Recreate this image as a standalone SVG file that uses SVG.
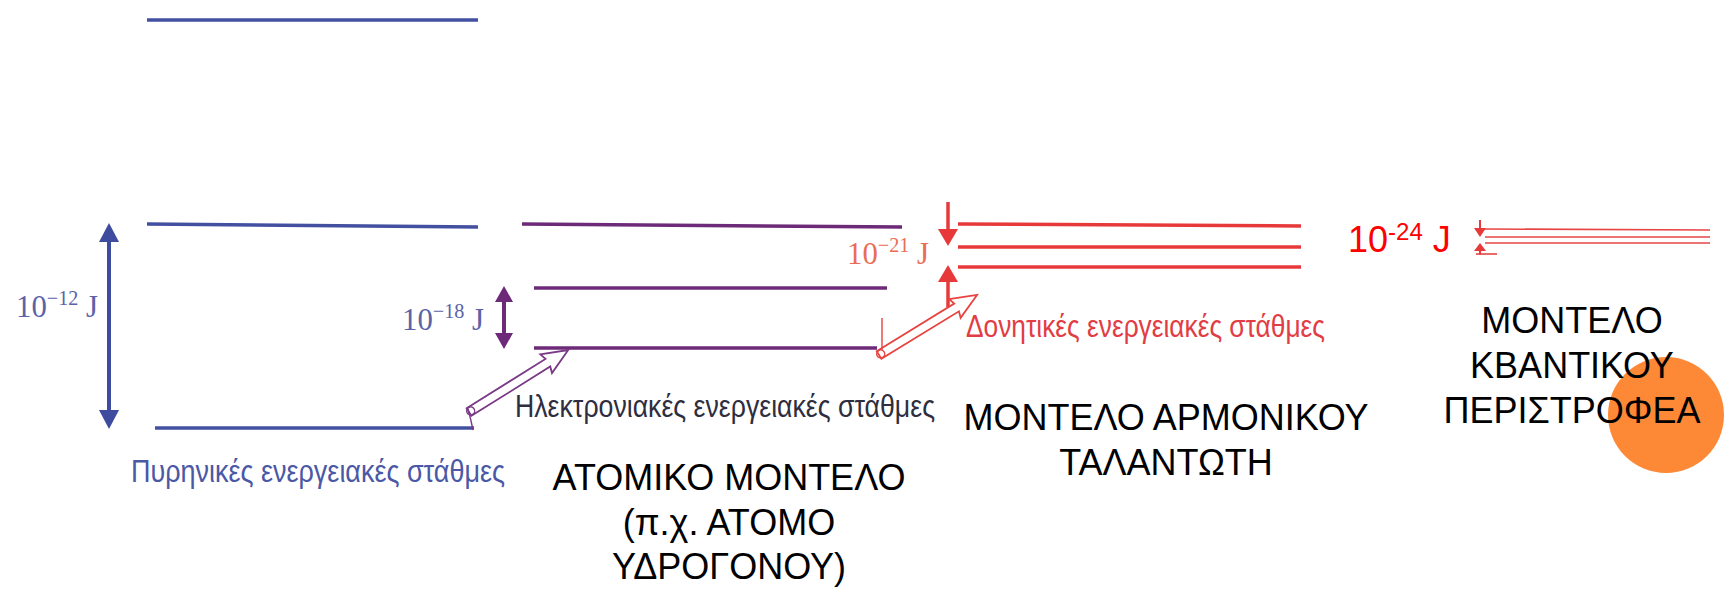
<svg xmlns="http://www.w3.org/2000/svg" width="1729" height="590" viewBox="0 0 1729 590">
<style>
.ser{font-family:"Liberation Serif","Times New Roman",serif;font-size:32px}
.nar{font-family:"Liberation Sans",Arial,sans-serif;font-size:31px}
.big{font-family:"Liberation Sans",Arial,sans-serif;font-size:36px;fill:#000;text-anchor:middle}
.blue{stroke:#4350a0;stroke-width:3.5;fill:none}
.purp{stroke:#6c2a78;stroke-width:3.5;fill:none}
.red{stroke:#e8393a;stroke-width:3.5;fill:none}
.redthin{stroke:#e84444;stroke-width:1.6;fill:none}
.hollowP{fill:#fff;stroke:#7a3a86;stroke-width:1.8}
.hollowR{fill:#fff;stroke:#e8433f;stroke-width:1.8}
</style>
<rect width="1729" height="590" fill="#fff"/>
<g id="nuclear-levels">
  <line class="blue" x1="147" y1="20" x2="478" y2="20"/>
  <line class="blue" x1="147" y1="224" x2="478" y2="227"/>
  <line class="blue" x1="155" y1="428" x2="474" y2="428"/>
  <line stroke="#3e4b9e" stroke-width="4" x1="109" y1="238" x2="109" y2="414"/>
  <polygon fill="#3e4b9e" points="109,223 99,242 119,242"/>
  <polygon fill="#3e4b9e" points="109,429 99,410 119,410"/>
  <text class="ser" x="16" y="317" fill="#5a62a8" textLength="82" lengthAdjust="spacingAndGlyphs">10<tspan dy="-12" font-size="21">−12</tspan><tspan dy="12"> J</tspan></text>
  <text class="nar" x="131" y="482" fill="#4a58a6" textLength="374" lengthAdjust="spacingAndGlyphs">Πυρηνικές ενεργειακές στάθμες</text>
</g>
<g id="electronic-levels">
  <line class="purp" x1="522" y1="224" x2="902" y2="227"/>
  <line class="purp" x1="534" y1="288" x2="887" y2="288"/>
  <line class="purp" x1="534" y1="348" x2="877" y2="348"/>
  <line stroke="#6c2a78" stroke-width="4" x1="504" y1="298" x2="504" y2="336"/>
  <polygon fill="#6c2a78" points="504,286 495,302 513,302"/>
  <polygon fill="#6c2a78" points="504,349 495,333 513,333"/>
  <text class="ser" x="402" y="330" fill="#5a62a8" textLength="82" lengthAdjust="spacingAndGlyphs">10<tspan dy="-12" font-size="21">−18</tspan><tspan dy="12"> J</tspan></text>
  <text class="nar" x="515" y="417" fill="#2e2e40" textLength="420" lengthAdjust="spacingAndGlyphs">Ηλεκτρονιακές ενεργειακές στάθμες</text>
</g>
<g id="vibrational-levels">
  <line class="red" x1="958" y1="224" x2="1301" y2="226"/>
  <line class="red" x1="958" y1="247" x2="1301" y2="247"/>
  <line class="red" x1="958" y1="267" x2="1301" y2="267"/>
  <line stroke="#e8393a" stroke-width="3.5" x1="948" y1="202" x2="948" y2="232"/>
  <polygon fill="#e8393a" points="948,246 938,229 958,229"/>
  <line stroke="#e8393a" stroke-width="3.5" x1="948" y1="278" x2="948" y2="307"/>
  <polygon fill="#e8393a" points="948,265 938,282 958,282"/>
  <text class="ser" x="847" y="264" fill="#ea6c54" textLength="82" lengthAdjust="spacingAndGlyphs">10<tspan dy="-12" font-size="21">−21</tspan><tspan dy="12"> J</tspan></text>
  <text class="nar" x="966" y="337" fill="#e23c44" textLength="359" lengthAdjust="spacingAndGlyphs">Δονητικές ενεργειακές στάθμες</text>
</g>
<g id="rotational-levels">
  <line class="redthin" x1="1485" y1="229" x2="1710" y2="230"/>
  <line class="redthin" x1="1485" y1="237" x2="1710" y2="237"/>
  <line class="redthin" x1="1485" y1="243" x2="1710" y2="243"/>
  <line stroke="#e8393a" stroke-width="2" x1="1480" y1="220" x2="1480" y2="229"/>
  <polygon fill="#e8393a" points="1480,237 1474,228 1486,228"/>
  <line stroke="#e8393a" stroke-width="2" x1="1480" y1="249" x2="1480" y2="255"/>
  <polygon fill="#e8393a" points="1480,243 1474,251 1486,251"/>
  <line class="redthin" x1="1476" y1="254" x2="1497" y2="254"/>
  <text x="1348" y="252" font-family="Liberation Sans, Arial, sans-serif" font-size="36" fill="#ff0000">10<tspan dy="-12" font-size="24">-24</tspan><tspan dy="12"> J</tspan></text>
</g>
<g id="connectors">
  <g transform="translate(469,412) rotate(-32)">
    <polygon class="hollowP" points="0,-4.5 93,-4.5 91,-11 117,0 91,11 93,4.5 0,4.5"/>
    <circle cx="2" cy="0" r="4" fill="none" stroke="#7a3a86" stroke-width="1.4"/>
  </g>
  <path d="M468,409 Q471,420 473,430" stroke="#7a3a86" stroke-width="1.4" fill="none"/>
  <g transform="translate(879,355) rotate(-31.5)">
    <polygon class="hollowR" points="0,-4.5 91,-4.5 89,-11 115,0 89,11 91,4.5 0,4.5"/>
    <circle cx="2" cy="0" r="4" fill="none" stroke="#e8433f" stroke-width="1.4"/>
  </g>
  <line x1="882" y1="318" x2="882" y2="350" stroke="#e8433f" stroke-width="1.4"/>
</g>
<g id="atomic-model">
  <text class="big" x="729" y="490">ΑΤΟΜΙΚΟ ΜΟΝΤΕΛΟ</text>
  <text class="big" x="729" y="535">(π.χ. ΑΤΟΜΟ</text>
  <text class="big" x="729" y="579">ΥΔΡΟΓΟΝΟΥ)</text>
</g>
<g id="oscillator-model">
  <text class="big" x="1166" y="430">ΜΟΝΤΕΛΟ ΑΡΜΟΝΙΚΟΥ</text>
  <text class="big" x="1166" y="475">ΤΑΛΑΝΤΩΤΗ</text>
</g>
<g id="rotor-model">
  <circle cx="1666" cy="415" r="58" fill="#fd8836"/>
  <text class="big" x="1572" y="333">ΜΟΝΤΕΛΟ</text>
  <text class="big" x="1572" y="378">ΚΒΑΝΤΙΚΟΥ</text>
  <text class="big" x="1572" y="423">ΠΕΡΙΣΤΡΟΦΕΑ</text>
</g>
</svg>
